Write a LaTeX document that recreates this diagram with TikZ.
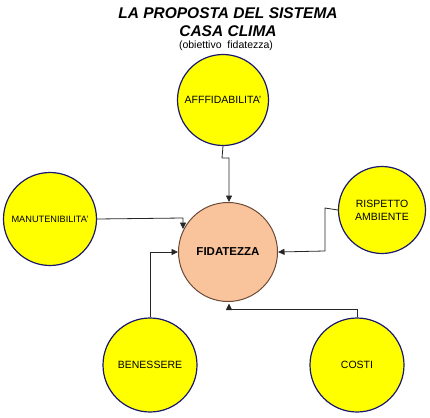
\documentclass[tikz,border=0pt]{standalone}
\usepackage{fontspec}
\setmainfont{Liberation Sans}
\usetikzlibrary{arrows.meta}
\definecolor{cyel}{HTML}{FFFF00}
\definecolor{cnavy}{HTML}{1A1A70}
\definecolor{cpeach}{HTML}{F9C39B}
\definecolor{cbrown}{HTML}{6B4A3A}
\tikzset{
  ycirc/.style={circle, draw=cnavy, line width=1.2pt, fill=cyel, inner sep=0pt, align=center, font=\fontsize{10.5}{13}\selectfont},
  fcirc/.style={circle, draw=cbrown, line width=1pt, fill=cpeach, inner sep=0pt, font=\bfseries\fontsize{11.5}{13}\selectfont},
  conn/.style={draw=black!85, line width=0.8pt, -{Triangle[length=6.5pt,width=6pt]}},
}
\begin{document}
\begin{tikzpicture}[x=1pt,y=-1pt]
\useasboundingbox (0,0) rectangle (430,417);
\node[font=\bfseries\itshape\fontsize{15.5}{17}\selectfont] (t1) at (228,13) {LA PROPOSTA DEL SISTEMA};
\node[font=\bfseries\itshape\fontsize{15.5}{17}\selectfont] (t2) at (228,31) {CASA CLIMA};
\node[font=\fontsize{10.5}{12}\selectfont] (t3) at (226,46) {(obiettivo\ \ fidatezza)};

\node[fcirc, minimum size=99pt] (fid) at (228,252) {FIDATEZZA};
\node[ycirc, minimum size=91pt] (aff) at (223,100) {AFFFIDABILITA'};
\node[ycirc, minimum size=93pt, font=\fontsize{9.2}{11}\selectfont] (man) at (50,219) {MANUTENIBILITA'};
\node[ycirc, minimum size=87pt] (ris) at (382,210) {RISPETTO\\AMBIENTE};
\node[ycirc, minimum size=94pt] (ben) at (150,365) {BENESSERE};
\node[ycirc, minimum size=94pt] (cos) at (357,365) {COSTI};

\coordinate (a1) at (222,158);
\coordinate (a2) at (229,158);
\draw[conn] (aff.south) -- (a1) -- (a2) -- (a2 |- fid.north);
\coordinate (m1) at (183,218);
\draw[conn] (man.east) -- (m1) -- (183,229);
\coordinate (r1) at (325,208);
\draw[conn] (ris.west) -- (r1) -- (325,251) -- (fid.east);
\draw[conn] (ben.north) |- (fid.west);
\coordinate (c1) at (229,309);
\draw[conn] (cos.north) |- (c1) -- (229,303.5);
\end{tikzpicture}
\end{document}
